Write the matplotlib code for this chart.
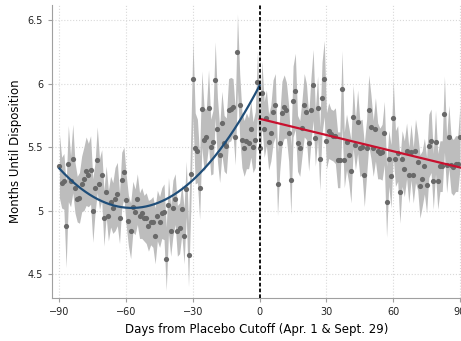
import numpy as np
import matplotlib
matplotlib.use("Agg")
import matplotlib.pyplot as plt

# days relative to the placebo cutoff
days_left = list(range(-90, 0))
days_right = list(range(0, 91))

# mean months until disposition per day
vals_left = [5.35, 5.22, 5.23, 4.88, 5.37, 5.23, 5.41, 5.18, 5.09, 5.10,
             5.21, 5.25, 5.31, 5.28, 5.32, 5.00, 5.18, 5.40, 5.21, 5.28,
             4.94, 5.15, 4.96, 5.07, 5.02, 5.09, 5.13, 4.94, 5.24, 5.30,
             5.08, 4.92, 4.84, 5.03, 4.99, 5.09, 4.96, 4.98, 4.94, 4.94,
             4.88, 4.91, 4.91, 4.80, 4.96, 4.91, 4.98, 4.99, 4.62, 5.04,
             4.84, 5.02, 5.09, 4.84, 4.86, 5.01, 4.80, 5.17, 4.65, 5.29,
             6.04, 5.49, 5.47, 5.18, 5.80, 5.56, 5.58, 5.81, 5.50, 5.54,
             6.03, 5.64, 5.44, 5.69, 5.53, 5.51, 5.79, 5.80, 5.82, 5.58,
             6.25, 5.83, 5.56, 5.49, 5.55, 5.53, 5.64, 5.50, 5.56, 6.01]
vals_right = [5.49, 5.93, 5.64, 5.73, 5.54, 5.61, 5.78, 5.83, 5.21, 5.53,
              5.77, 5.82, 5.79, 5.61, 5.24, 5.86, 5.94, 5.53, 5.49, 5.65,
              5.83, 5.78, 5.53, 5.79, 5.99, 5.57, 5.81, 5.41, 5.89, 6.04,
              5.55, 5.63, 5.60, 5.59, 5.59, 5.40, 5.40, 5.96, 5.40, 5.54,
              5.44, 5.31, 5.74, 5.52, 5.70, 5.49, 5.50, 5.28, 5.49, 5.79,
              5.66, 5.49, 5.64, 5.47, 5.45, 5.46, 5.61, 5.07, 5.41, 5.27,
              5.73, 5.41, 5.45, 5.15, 5.41, 5.33, 5.47, 5.28, 5.46, 5.28,
              5.47, 5.38, 5.19, 5.25, 5.35, 5.20, 5.51, 5.55, 5.23, 5.54,
              5.23, 5.35, 5.35, 5.76, 5.36, 5.58, 5.36, 5.34, 5.37, 5.37,
              5.58]

# half width of the confidence band per day
ci_left = [.25, .20, .22, .33, .30, .20, .27, .20, .18, .20,
           .22, .25, .27, .25, .27, .25, .20, .26, .20, .20,
           .22, .20, .20, .20, .20, .25, .25, .20, .22, .20,
           .20, .20, .22, .20, .18, .20, .18, .20, .18, .20,
           .20, .18, .20, .22, .20, .20, .20, .22, .25, .22,
           .20, .22, .20, .20, .20, .20, .22, .22, .25, .30,
           .30, .28, .25, .25, .30, .25, .22, .30, .22, .25,
           .30, .25, .22, .25, .22, .22, .25, .25, .22, .22,
           .30, .25, .22, .22, .22, .20, .22, .20, .22, .25]
ci_right = [.25, .25, .22, .22, .22, .22, .25, .25, .25, .22,
            .25, .25, .22, .22, .27, .28, .30, .22, .22, .22,
            .25, .22, .22, .25, .28, .22, .25, .25, .28, .30,
            .22, .22, .20, .20, .22, .22, .22, .30, .22, .22,
            .22, .25, .25, .20, .25, .22, .22, .25, .22, .28,
            .25, .22, .25, .22, .20, .22, .25, .28, .22, .25,
            .30, .22, .22, .25, .22, .22, .22, .22, .22, .22,
            .25, .22, .25, .22, .22, .22, .25, .25, .22, .25,
            .22, .20, .20, .30, .22, .25, .22, .22, .22, .22,
            .25]

x = np.array(days_left + days_right)
y = np.array(vals_left + vals_right)
ci = np.array(ci_left + ci_right)

fig = plt.figure(figsize=(4.61, 3.41), dpi=100)
ax = fig.add_axes([0.113, 0.126, 0.887, 0.859])

ax.fill_between(x, y - ci, y + ci, color="#bdbdbd", linewidth=0, zorder=1)
ax.scatter(x, y, s=14, color="#696969", linewidths=0, zorder=2)

# quadratic fit before the cutoff, linear after
pl = np.polyfit(days_left, vals_left, 2)
xl = np.linspace(-90, 0, 200)
ax.plot(xl, np.polyval(pl, xl), color="#1f4e79", lw=1.6, zorder=3)
pr = np.polyfit(days_right, vals_right, 1)
xr = np.linspace(0, 90, 50)
ax.plot(xr, np.polyval(pr, xr), color="#c8102e", lw=1.6, zorder=3)

ax.axvline(0, color="black", lw=1.3, ls=(0, (2, 1.2)), zorder=4)

ax.set_xlim(-93.3, 90.45)
ax.set_ylim(4.31, 6.62)
ax.set_xticks([-90, -60, -30, 0, 30, 60, 90])
ax.set_yticks([4.5, 5, 5.5, 6, 6.5])
ax.set_yticklabels(["4.5", "5", "5.5", "6", "6.5"])
ax.grid(True, color="#d9d9d9", ls=":", lw=0.8)
ax.set_axisbelow(True)
for s in ["top", "right"]:
    ax.spines[s].set_visible(False)
for s in ["left", "bottom"]:
    ax.spines[s].set_color("#a0a0a0")
ax.tick_params(colors="#a0a0a0", labelcolor="#222222", labelsize=7, length=3)

ax.set_xlabel("Days from Placebo Cutoff (Apr. 1 & Sept. 29)", fontsize=8.5)
ax.set_ylabel("Months Until Disposition", fontsize=8.5)

fig.savefig("out.png", dpi=100)
